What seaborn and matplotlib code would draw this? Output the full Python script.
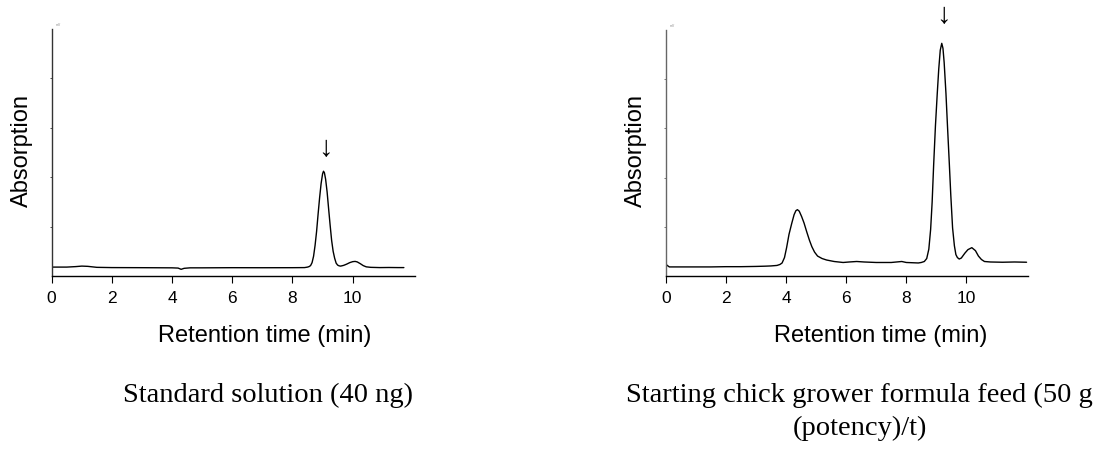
import matplotlib
matplotlib.use("Agg")
import matplotlib.pyplot as plt
import numpy as np
import pandas as pd
import seaborn as sns

# ---------------- data ----------------
std_time = [0.0, 0.5, 0.8, 1.0, 1.2, 1.5, 2.0, 3.0, 4.0, 4.2, 4.3, 4.4, 4.6, 5.0,
            6.0, 7.0, 8.0, 8.4, 8.5, 8.55, 8.6, 8.65, 8.7, 8.75, 8.8, 8.85, 8.9,
            8.95, 9.0, 9.03, 9.06, 9.1, 9.15, 9.2, 9.25, 9.3, 9.35, 9.4, 9.45,
            9.5, 9.55, 9.6, 9.7, 9.8, 9.9, 10.0, 10.08, 10.15, 10.25, 10.35,
            10.45, 10.6, 10.9, 11.2, 11.5, 11.7]
std_abs = [0.18, 0.18, 0.19, 0.20, 0.195, 0.175, 0.17, 0.168, 0.165, 0.16, 0.135,
           0.155, 0.165, 0.165, 0.168, 0.167, 0.168, 0.17, 0.18, 0.19, 0.21, 0.27,
           0.40, 0.62, 0.90, 1.25, 1.58, 1.87, 2.07, 2.12, 2.09, 1.96, 1.70, 1.36,
           1.03, 0.72, 0.50, 0.36, 0.26, 0.22, 0.205, 0.20, 0.215, 0.24, 0.27,
           0.29, 0.295, 0.285, 0.25, 0.21, 0.185, 0.175, 0.17, 0.172, 0.17, 0.17]

feed_time = [0.0, 0.05, 0.12, 0.5, 1.0, 1.5, 2.0, 2.5, 3.0, 3.3, 3.5, 3.7, 3.8,
             3.87, 3.95, 4.02, 4.1, 4.19, 4.27, 4.33, 4.38, 4.44, 4.52, 4.6, 4.69,
             4.78, 4.86, 4.95, 5.05, 5.2, 5.35, 5.6, 5.9, 6.1, 6.35, 6.6, 7.0, 7.5,
             7.85, 8.0, 8.4, 8.5, 8.6, 8.68, 8.75, 8.81, 8.86, 8.91, 8.97, 9.03,
             9.08, 9.13, 9.18, 9.22, 9.26, 9.32, 9.37, 9.43, 9.48, 9.54, 9.6, 9.65,
             9.7, 9.76, 9.83, 9.95, 10.05, 10.18, 10.3, 10.4, 10.5, 10.6, 10.8,
             11.2, 11.6, 12.0]
feed_abs = [0.25, 0.22, 0.19, 0.19, 0.19, 0.19, 0.195, 0.195, 0.20, 0.205, 0.21,
            0.22, 0.24, 0.27, 0.38, 0.58, 0.85, 1.07, 1.25, 1.33, 1.35, 1.32, 1.21,
            1.08, 0.90, 0.73, 0.60, 0.49, 0.41, 0.36, 0.33, 0.30, 0.28, 0.29, 0.30,
            0.29, 0.28, 0.28, 0.30, 0.28, 0.27, 0.28, 0.30, 0.36, 0.55, 0.95, 1.50,
            2.25, 3.05, 3.70, 4.20, 4.58, 4.72, 4.62, 4.33, 3.70, 3.05, 2.30, 1.65,
            0.98, 0.62, 0.44, 0.38, 0.35, 0.37, 0.47, 0.54, 0.58, 0.52, 0.41, 0.34,
            0.30, 0.29, 0.285, 0.29, 0.285]

x_ticks = [0, 2, 4, 6, 8, 10]
x_label = "Retention time (min)"
y_label = "Absorption"
captions = ["Standard solution (40 ng)",
            "Starting chick grower formula feed (50 g", "(potency)/t)"]

# ---------------- style ----------------
sns.set_style("ticks")
plt.rcParams["font.family"] = ["Liberation Sans", "DejaVu Sans"]
plt.rcParams["text.color"] = "black"
plt.rcParams["axes.labelcolor"] = "black"
plt.rcParams["xtick.color"] = "black"
plt.rcParams["ytick.color"] = "black"

fig = plt.figure(figsize=(11.02, 4.52), dpi=100)
ax1 = fig.add_axes([0.0469, 0.3872, 0.3297, 0.5465])
ax2 = fig.add_axes([0.6041, 0.3865, 0.3288, 0.5460])

panels = [
    (ax1, std_time, std_abs, 12.07, (9.08, 2.62), 0.586, "#333333"),
    (ax2, feed_time, feed_abs, 12.05, (9.23, 5.31), 0.593, "#666666"),
]

for ax, t, a, xmax, arrow_xy, xl_x, ycol in panels:
    df = pd.DataFrame({"t": t, "a": a})
    sns.lineplot(data=df, x="t", y="a", ax=ax, color="black", linewidth=1.0,
                 errorbar=None)
    ax.set_xlim(0, xmax)
    ax.set_ylim(0, 5)
    ax.set_xticks(x_ticks)
    ax.set_yticks([1, 2, 3, 4])
    ax.set_yticklabels([])
    ax.spines["top"].set_visible(False)
    ax.spines["right"].set_visible(False)
    ax.spines["bottom"].set_color("black")
    ax.spines["bottom"].set_linewidth(1.0)
    ax.spines["left"].set_color(ycol)
    ax.spines["left"].set_linewidth(1.0)
    ax.tick_params(axis="x", direction="out", length=5, width=0.8,
                   labelsize=12.5, pad=5, colors="black", labelcolor="black")
    ax.tick_params(axis="y", direction="out", length=1.5, width=0.6,
                   colors=ycol, labelleft=False)
    ax.set_xlabel(x_label, fontsize=17, color="black")
    ax.xaxis.set_label_coords(xl_x, -0.239)
    ax.xaxis.label.set_va("center")
    ax.set_ylabel(y_label, fontsize=17, color="black")
    ax.yaxis.set_label_coords(-0.083, 0.514)
    ax.yaxis.label.set_va("center")
    ax.text(arrow_xy[0], arrow_xy[1], "\u2193", ha="center", va="center",
            fontsize=21, color="black", clip_on=False)
    ax.text(0.012, 1.01, "mV", transform=ax.transAxes, fontsize=2.5,
            color="#888888", ha="left", va="bottom")

serif = ["Liberation Serif", "DejaVu Serif"]
fig.text(268.4 / 1102, 1 - 401.7 / 452, captions[0], family=serif,
         fontsize=20.5, ha="center", va="baseline", color="black")
fig.text(859.5 / 1102, 1 - 401.7 / 452, captions[1], family=serif,
         fontsize=20.5, ha="center", va="baseline", color="black")
fig.text(859.5 / 1102, 1 - 435.0 / 452, captions[2], family=serif,
         fontsize=20.5, ha="center", va="baseline", color="black")

fig.savefig("out.png", dpi=100)
